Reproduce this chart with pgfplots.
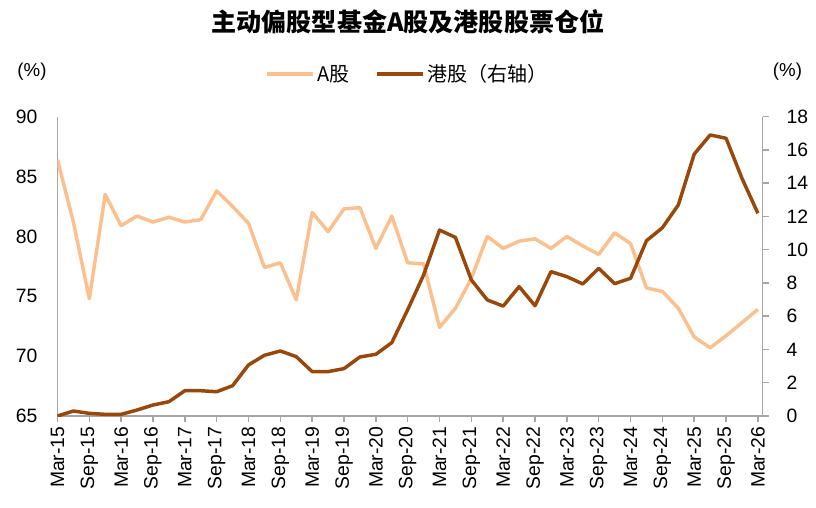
\documentclass[border=0pt]{standalone}
\usepackage{pgfplots}
\pgfplotsset{compat=1.18}
\usepackage{pgfplotstable}
\usepackage{fontspec}
\setmainfont{Liberation Sans}
\newfontfamily\cjk{Noto Sans CJK SC}
\definecolor{ashare}{RGB}{252,192,142}
\definecolor{hkshare}{RGB}{154,72,10}
\definecolor{axisgray}{RGB}{166,166,166}

\pgfplotstableread{
x a h
0 86.4 0.00
1 81.2 0.30
2 74.8 0.16
3 83.5 0.10
4 80.9 0.10
5 81.7 0.36
6 81.2 0.66
7 81.6 0.86
8 81.2 1.52
9 81.4 1.52
10 83.8 1.46
11 82.5 1.82
12 81.1 3.07
13 77.4 3.65
14 77.8 3.91
15 74.7 3.57
16 82.0 2.67
17 80.4 2.67
18 82.3 2.85
19 82.4 3.55
20 79.0 3.71
21 81.7 4.41
22 77.8 6.39
23 77.7 8.48
24 72.4 11.18
25 74.0 10.74
26 76.5 8.18
27 80.0 6.98
28 79.0 6.61
29 79.6 7.78
30 79.8 6.63
31 79.0 8.68
32 80.0 8.38
33 79.2 7.94
34 78.5 8.88
35 80.3 7.96
36 79.4 8.28
37 75.7 10.54
38 75.4 11.32
39 74.0 12.69
40 71.6 15.75
41 70.7 16.90
42 71.7 16.70
43 72.8 14.29
44 73.9 12.19
}\datatable

\begin{document}
\begin{tikzpicture}
\useasboundingbox (0,0) rectangle (612pt,380.25pt);
\pgfplotsset{
  common/.style={
    scale only axis,
    width=528.9pt, height=224.5pt,
    at={(43.1pt,68.25pt)}, anchor=south west,
    xmin=0, xmax=44.3,
    axis line style={axisgray, line width=1.1pt},
    tick style={axisgray, line width=1.1pt},
    major tick length=4.5pt,
    tick align=outside,
    ticklabel style={font=\fontsize{14.5}{16}\selectfont, text=black},
    /pgf/number format/assume math mode=true,
  }
}
\begin{axis}[
  common,
  axis x line*=bottom,
  axis y line*=left,
  ymin=65, ymax=90,
  ytick={65,70,...,90},
  ytick style={draw=none},
  yticklabel style={xshift=-7pt},
  xtick={0,2,...,44},
  xticklabels={Mar-15,Sep-15,Mar-16,Sep-16,Mar-17,Sep-17,Mar-18,Sep-18,Mar-19,Sep-19,Mar-20,Sep-20,Mar-21,Sep-21,Mar-22,Sep-22,Mar-23,Sep-23,Mar-24,Sep-24,Mar-25,Sep-25,Mar-26},
  xticklabel style={rotate=90, anchor=east, xshift=0pt, yshift=0pt},
  legend columns=2,
  legend style={draw=none, fill=none, at={(0.4963,1.1425)}, anchor=center,
    font=\cjk\fontsize{15}{17}\selectfont,
    /tikz/every even column/.append style={column sep=17pt}},
  legend image code/.code={\draw[#1] (0pt,0pt) -- (34.5pt,0pt);},
]
\addplot[ashare, line width=2.6pt, line join=round] table[x=x,y=a]{\datatable};
\addlegendentry{A股}
\addlegendimage{hkshare, line width=2.6pt}
\addlegendentry{港股（右轴）}
\end{axis}
\begin{axis}[
  common,
  axis x line=none,
  axis y line*=right,
  ymin=0, ymax=18,
  ytick={0,2,...,18},
  yticklabel style={xshift=10pt},
]
\addplot[hkshare, line width=2.6pt, line join=round] table[x=x,y=h]{\datatable};
\end{axis}
\node at (306pt,363.75pt) {\cjk\bfseries\fontsize{18.8}{20}\selectfont 主动偏股型基金A股及港股股票仓位};
\node at (24pt,326.6pt) {\fontsize{14}{16}\selectfont (\%)};
\node at (590.6pt,326.6pt) {\fontsize{14}{16}\selectfont (\%)};
\end{tikzpicture}
\end{document}
